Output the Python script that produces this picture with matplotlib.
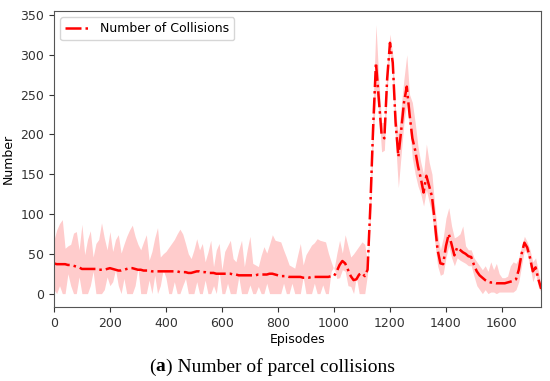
import numpy as np
from matplotlib import pyplot as plt

# episodes sampled every 10
episodes = np.arange(0, 1750, 10)

mean_collisions = [
    38, 37, 37, 37, 37, 36, 36, 35, 34, 33,
    31, 31, 31, 31, 31, 31, 30, 30, 30, 31,
    32, 31, 30, 29, 29, 30, 31, 32, 32, 31,
    30, 30, 29, 29, 29, 28, 28, 28, 28, 28,
    28, 28, 28, 28, 28, 27, 27, 27, 26, 26,
    27, 28, 28, 27, 27, 26, 26, 26, 25, 25,
    25, 25, 25, 25, 24, 24, 23, 23, 23, 23,
    23, 23, 23, 24, 24, 24, 24, 25, 25, 24,
    23, 22, 22, 22, 21, 21, 21, 21, 21, 20,
    20, 20, 21, 21, 21, 21, 21, 21, 21, 22,
    22, 28, 36, 41, 38, 30, 22, 17, 18, 24,
    26, 22, 30, 110, 210, 290, 245, 200, 195, 270,
    315, 290, 215, 172, 205, 240, 260, 225, 195, 180,
    160, 145, 127, 148, 135, 122, 90, 55, 38, 37,
    60, 75, 62, 48, 58, 55, 52, 50, 47, 46,
    36, 28, 23, 20, 17, 15, 14, 14, 13, 13,
    13, 13, 14, 15, 16, 18, 30, 50, 64, 58,
    45, 28, 33, 18, 6,
]

upper_collisions = [
    67, 80, 88, 93, 57, 60, 62, 76, 78, 55,
    87, 49, 68, 79, 46, 63, 68, 89, 70, 55,
    78, 53, 68, 74, 51, 62, 72, 80, 86, 72,
    62, 55, 65, 74, 42, 53, 70, 83, 46, 50,
    53, 58, 63, 68, 75, 81, 75, 63, 50, 44,
    55, 69, 55, 63, 40, 52, 67, 34, 55, 63,
    30, 53, 60, 67, 44, 40, 55, 67, 34, 55,
    72, 38, 36, 34, 48, 59, 51, 62, 74, 67,
    66, 65, 55, 46, 36, 34, 32, 48, 63, 36,
    49, 55, 61, 64, 69, 67, 66, 65, 51, 40,
    30, 50, 67, 51, 74, 60, 46, 50, 55, 60,
    65, 62, 38, 130, 240, 338, 270, 215, 215, 290,
    326, 300, 230, 200, 235, 270, 300, 250, 240, 215,
    185, 165, 150, 188, 165, 150, 110, 75, 55, 70,
    95, 108, 85, 70, 72, 75, 85, 60, 55, 55,
    45, 40, 35, 30, 35, 28, 40, 30, 38, 25,
    20, 20, 22, 35, 40, 38, 45, 60, 72, 65,
    55, 40, 45, 28, 10,
]

lower_collisions = [
    5, 0, 10, 0, 0, 25, 10, 0, 0, 21,
    0, 0, 0, 10, 28, 0, 0, 0, 5, 21,
    10, 15, 30, 10, 0, 19, 0, 0, 0, 10,
    32, 0, 0, 0, 17, 0, 23, 0, 10, 30,
    20, 0, 0, 15, 0, 0, 10, 19, 0, 0,
    0, 15, 0, 0, 17, 0, 0, 10, 0, 28,
    0, 0, 13, 0, 0, 0, 21, 0, 0, 0,
    11, 0, 0, 9, 0, 0, 13, 0, 0, 0,
    0, 0, 13, 0, 0, 13, 0, 0, 0, 21,
    0, 0, 0, 13, 0, 0, 11, 0, 0, 28,
    34, 19, 20, 30, 28, 10, 9, 0, 21, 0,
    0, 0, 25, 95, 190, 255, 230, 178, 180, 255,
    305, 270, 190, 133, 175, 215, 240, 210, 170, 150,
    135, 125, 110, 130, 115, 100, 65, 35, 23, 25,
    45, 60, 45, 35, 45, 42, 40, 38, 35, 35,
    22, 10, 5, 0, 5, 0, 2, 2, 0, 2,
    2, 2, 2, 2, 2, 5, 15, 35, 55, 50,
    35, 15, 25, 8, 2,
]

fig = plt.figure(figsize=(5.5, 3.81), dpi=100)
ax = fig.add_axes([0.098, 0.194, 0.886, 0.777])

ax.fill_between(episodes, lower_collisions, upper_collisions, color='red', alpha=0.2, linewidth=0)
ax.plot(episodes, mean_collisions, color='red', linestyle='-.', linewidth=1.8, label='Number of Collisions')

ax.set_xlim(0, 1740)
ax.set_xticks(range(0, 1800, 200))
ax.set_yticks(range(0, 400, 50))
ax.tick_params(labelsize=9, colors='#333333')
for s in ax.spines.values():
    s.set_color('#555555')
ax.set_xlabel('Episodes', fontsize=9, labelpad=2)
ax.set_ylabel('Number', fontsize=9)
ax.legend(loc='upper left', fontsize=9)

# caption with bold "a"
fig.canvas.draw()
r = fig.canvas.get_renderer()
parts = [('(', 'normal'), ('a', 'bold'), (') Number of parcel collisions', 'normal')]
texts = []
total = 0
for s, w in parts:
    t = fig.text(0, 0.037, s, fontsize=14, family='Liberation Serif', weight=w, va='center')
    texts.append(t)
    total += t.get_window_extent(r).width
x = 272 - total / 2
for t in texts:
    t.set_x(x / fig.bbox.width)
    x += t.get_window_extent(r).width

fig.savefig('out.png', dpi=100)
